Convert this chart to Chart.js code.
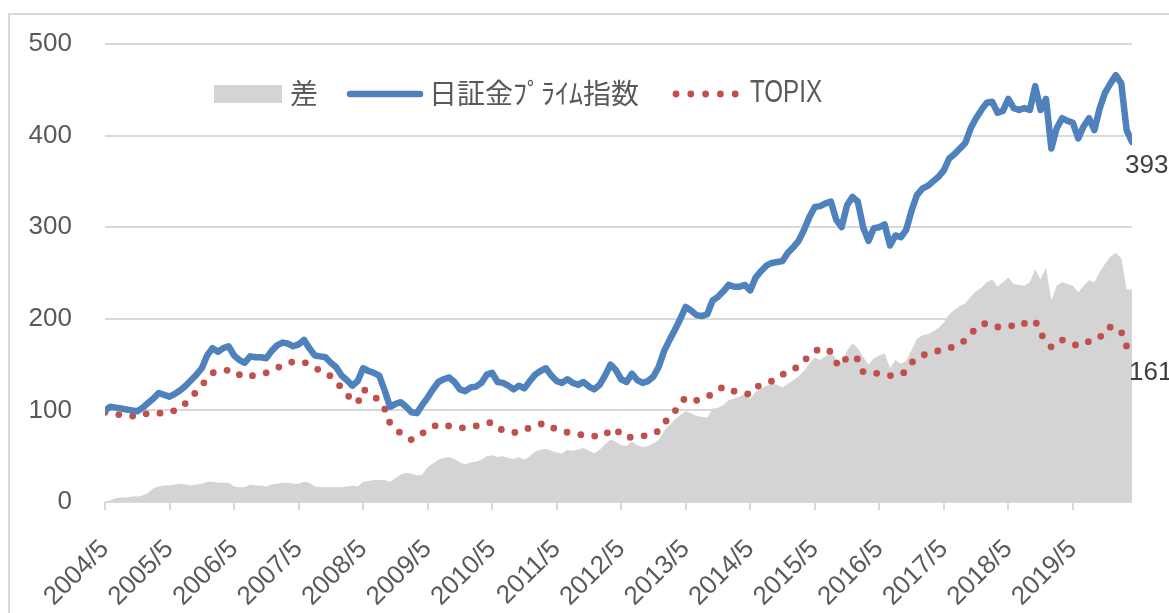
<!DOCTYPE html>
<html><head><meta charset="utf-8">
<script src="https://cdn.jsdelivr.net/npm/chart.js@4"></script>
<style>html,body{margin:0;padding:0;background:#fff;overflow:hidden}#wrap{width:1169px;height:613px;position:relative}</style>
</head><body><div id="wrap"><canvas id="c" width="1169" height="613"></canvas></div>
<script>
// x tick labels (every 12 months starting 2004/5)
const tickLabels = ['2004/5','2005/5','2006/5','2007/5','2008/5','2009/5','2010/5','2011/5','2012/5','2013/5','2014/5','2015/5','2016/5','2017/5','2018/5','2019/5'];
const seriesNames = ['差','日証金ﾌﾟﾗｲﾑ指数','TOPIX'];

// monthly values, 2004/5 .. 2020/4
const primeIndex = [
100,104,103,102,101,100,99,103,108,113,119,117,
115,118,122,127,133,139,146,160,168,164,168,170,
160,155,152,159,158,158,157,165,171,174,173,170,
172,177,168,160,159,158,152,147,138,133,127,132,
146,143,141,138,122,104,107,109,104,98,97,106,
114,123,131,134,136,131,123,121,125,126,130,139,
141,131,130,127,123,127,124,132,139,143,146,138,
132,130,134,130,128,131,126,123,128,138,150,144,
134,131,140,133,130,132,137,148,165,177,188,200,
213,209,204,203,205,220,224,230,237,235,235,237,
231,245,252,258,261,262,263,272,278,285,297,311,
322,323,326,328,308,300,324,333,328,300,285,299,
300,303,280,291,289,297,318,335,342,345,350,355,
362,375,380,386,392,408,419,428,436,437,425,427,
440,430,428,430,428,454,428,440,386,408,419,416,
414,397,410,419,406,430,447,457,466,457,406,393
];
const topix = [
98,97,96,95,95,94,93,95,97,97,97,97,
98,100,102,108,113,121,127,135,141,142,143,144,
144,139,136,137,139,140,141,143,146,150,152,153,
153,153,149,146,144,142,137,132,124,117,112,108,
123,120,116,110,102,86,80,75,71,68,70,75,
78,82,85,84,83,82,81,81,82,83,84,86,
87,82,78,77,76,76,79,81,83,85,86,82,
79,78,76,75,74,73,72,72,71,73,79,80,
73,70,71,71,72,73,74,78,86,93,99,108,
114,112,111,112,115,118,122,126,124,121,119,118,
118,125,128,130,132,134,139,143,145,148,154,160,
164,168,167,164,152,148,159,158,156,142,141,141,
140,139,138,138,139,143,152,157,160,162,164,165,
166,168,170,172,177,184,189,194,195,192,191,192,
193,192,191,195,197,198,184,176,169,172,177,174,
172,171,175,175,177,179,189,191,191,186,170,161
];
const spread = [
0,2,4,5,5,6,6,7,10,15,17,18,
18,19,20,19,18,19,20,22,22,21,21,21,
17,16,16,19,18,18,17,19,20,21,21,20,
20,22,21,17,16,16,16,16,16,17,18,17,
22,23,24,24,24,22,26,30,32,31,29,30,
38,42,46,48,49,47,43,41,43,44,46,50,
51,49,50,48,47,49,46,50,55,57,58,56,
54,53,57,56,57,59,56,53,57,63,68,66,
62,61,66,62,60,61,64,68,78,84,90,95,
99,97,94,93,92,102,103,106,111,113,115,118,
113,120,124,127,129,128,125,129,133,137,143,151,
158,155,159,164,156,152,165,173,168,158,150,157,
160,162,146,155,151,154,166,178,182,183,186,190,
196,205,210,214,217,224,230,234,240,243,235,240,
245,238,237,236,240,254,243,256,220,236,240,238,
236,229,236,242,240,251,260,268,272,266,232,232
];

const toPts = arr => arr.map((v, i) => ({x: i, y: v}));
const FONT = '"Liberation Sans", Arial, sans-serif';

const framePlugin = {
  id: 'frame',
  beforeDraw(chart) {
    const ctx = chart.ctx;
    ctx.save();
    ctx.fillStyle = '#ffffff';
    ctx.fillRect(0, 0, chart.width, chart.height);
    ctx.strokeStyle = '#D9D9D9';
    ctx.lineWidth = 2;
    ctx.strokeRect(9, 14, chart.width + 40, chart.height + 40);
    ctx.restore();
  }
};

const endLabelPlugin = {
  id: 'endLabels',
  afterDatasetsDraw(chart) {
    const ctx = chart.ctx, xs = chart.scales.x, ys = chart.scales.y;
    const last = primeIndex.length - 1;
    ctx.save();
    ctx.font = '26px ' + FONT;
    ctx.fillStyle = '#404040';
    ctx.textAlign = 'left';
    ctx.textBaseline = 'middle';
    ctx.fillText(String(primeIndex[last]), xs.getPixelForValue(last) - 7, ys.getPixelForValue(primeIndex[last]) + 24);
    ctx.fillText(String(topix[last]), xs.getPixelForValue(last) - 3, ys.getPixelForValue(topix[last]) + 18);
    ctx.restore();
  }
};

const legendPlugin = {
  id: 'insideLegend',
  afterDraw(chart) {
    const ctx = chart.ctx, ds = chart.data.datasets;
    const cy = 94;
    ctx.save();
    ctx.textAlign = 'left';
    ctx.textBaseline = 'middle';
    // 差
    ctx.fillStyle = ds[0].backgroundColor;
    ctx.fillRect(214, cy - 9, 68, 18);
    ctx.fillStyle = '#595959';
    ctx.font = '28px "Noto Sans CJK JP"';
    ctx.fillText(ds[0].label, 290, cy - 1, 28);
    // prime index
    ctx.strokeStyle = ds[1].borderColor;
    ctx.lineWidth = 6.5;
    ctx.lineCap = 'round';
    ctx.beginPath(); ctx.moveTo(350, cy); ctx.lineTo(420, cy); ctx.stroke();
    ctx.fillText(ds[1].label, 429, cy - 1, 212);
    // TOPIX
    ctx.fillStyle = ds[2].borderColor;
    for (let k = 0; k < 5; k++) {
      ctx.beginPath(); ctx.arc(676 + k * 14.8, cy, 3.4, 0, Math.PI * 2); ctx.fill();
    }
    ctx.fillStyle = '#595959';
    ctx.font = '32px ' + FONT;
    ctx.fillText(ds[2].label, 750, cy - 1, 72);
    ctx.restore();
  }
};

new Chart(document.getElementById('c'), {
  type: 'line',
  data: {
    datasets: [
      { label: seriesNames[0], data: toPts(spread), order: 3, fill: 'origin',
        backgroundColor: '#D4D4D4', borderWidth: 0, pointRadius: 0, tension: 0 },
      { label: seriesNames[1], data: toPts(primeIndex), order: 1, fill: false,
        borderColor: '#4F81BD', borderWidth: 6.5, pointRadius: 0, tension: 0,
        borderJoinStyle: 'round', borderCapStyle: 'round' },
      { label: seriesNames[2], data: toPts(topix), order: 2, fill: false,
        borderColor: '#C0504D', borderWidth: 6.8, pointRadius: 0, tension: 0,
        borderDash: [0, 14], borderCapStyle: 'round', borderJoinStyle: 'round' }
    ]
  },
  options: {
    responsive: false,
    animation: false,
    devicePixelRatio: 1,
    layout: { padding: { left: 0, top: 44, right: 37, bottom: 0 } },
    plugins: { legend: { display: false }, tooltip: { enabled: false } },
    scales: {
      x: {
        type: 'linear', min: 0, max: primeIndex.length - 1,
        afterBuildTicks: s => { s.ticks = tickLabels.map((_, k) => ({ value: k * 12 })); },
        afterFit: s => { s.height = 111; },
        ticks: {
          autoSkip: false, minRotation: 45, maxRotation: 45, padding: 24,
          color: '#595959', font: { size: 26, family: FONT },
          callback: v => tickLabels[Math.round(v / 12)]
        },
        grid: { drawOnChartArea: false, drawTicks: true, tickLength: 8, color: '#D9D9D9', lineWidth: 2 },
        border: { display: false }
      },
      y: {
        min: 0, max: 500,
        afterFit: s => { s.width = 105; },
        ticks: { stepSize: 100, padding: 28, color: '#595959', font: { size: 26, family: FONT } },
        grid: { color: '#D9D9D9', lineWidth: 2, drawTicks: true, tickLength: 5, tickColor: 'rgba(0,0,0,0)' },
        border: { display: false }
      }
    }
  },
  plugins: [framePlugin, endLabelPlugin, legendPlugin]
});
</script>
</body></html>
